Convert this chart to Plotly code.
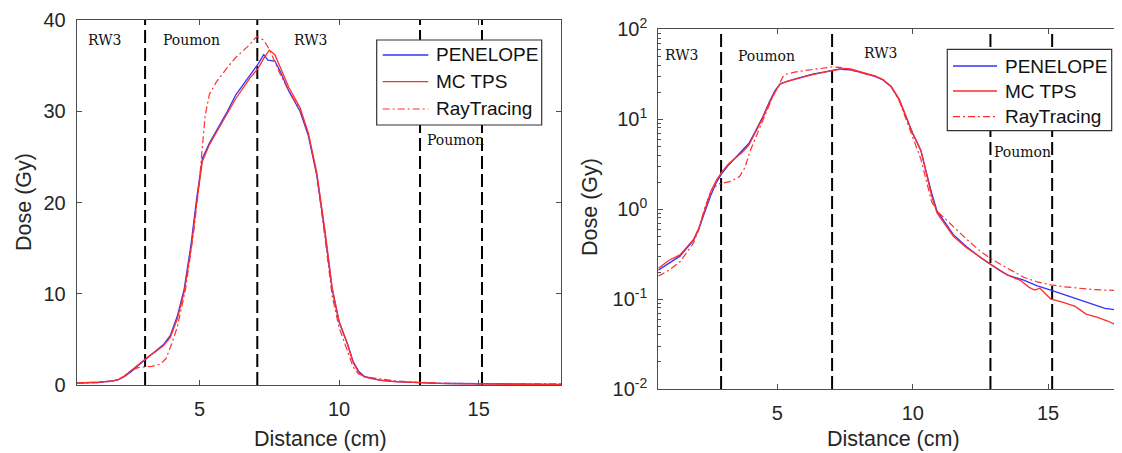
import math
import plotly.graph_objects as go

# ---------------- data ----------------
pen_x = [0.6, 1.0, 1.4, 1.9, 2.1, 2.3, 2.55, 2.75, 2.95, 3.2, 3.4, 3.7, 3.95, 4.2, 4.45, 4.7, 4.9,
         5.1, 5.35, 5.6, 6.0, 6.3, 6.8, 7.1, 7.3, 7.45, 7.7, 7.9, 8.2, 8.6, 8.9, 9.2, 9.5, 9.75,
         10.0, 10.3, 10.5, 10.7, 10.9, 11.2, 11.5, 12.0, 12.5, 12.9, 13.5, 14.1, 14.6, 15.1, 15.6,
         16.1, 16.6, 17.1, 17.6, 18.0]
pen_y = [0.21, 0.25, 0.30, 0.45, 0.6, 0.9, 1.45, 2.0, 2.5, 3.1, 3.6, 4.4, 5.4, 7.5, 10.5, 15.5, 20.5,
         24.8, 26.5, 27.8, 30.0, 31.8, 33.9, 35.2, 36.2, 35.6, 35.5, 34.3, 32.2, 30.0, 27.3, 23.0, 16.5, 10.5,
         6.9, 4.5, 2.6, 1.5, 0.95, 0.7, 0.52, 0.38, 0.29, 0.24, 0.185, 0.162, 0.14, 0.126, 0.112,
         0.098, 0.088, 0.079, 0.075, 0.073]

mc_x = [0.6, 1.0, 1.4, 1.9, 2.1, 2.3, 2.55, 2.75, 2.95, 3.2, 3.4, 3.7, 3.95, 4.2, 4.45, 4.7, 4.9,
        5.1, 5.35, 5.6, 6.0, 6.3, 6.8, 7.1, 7.3, 7.5, 7.7, 7.9, 8.2, 8.6, 8.9, 9.2, 9.5, 9.75,
        10.0, 10.3, 10.5, 10.7, 10.9, 11.2, 11.5, 12.0, 12.5, 12.9, 13.3, 13.6, 14.0, 14.3, 14.5,
        14.7, 15.1, 15.5, 16.0, 16.4, 16.8, 17.2, 17.6, 18.0]
mc_y = [0.22, 0.27, 0.31, 0.46, 0.62, 0.95, 1.6, 2.1, 2.6, 3.2, 3.6, 4.3, 5.2, 7.2, 10.2, 15.0, 20.0,
        24.5, 26.3, 27.6, 29.7, 31.4, 33.6, 34.7, 35.8, 36.7, 36.2, 34.8, 32.6, 30.4, 27.6, 23.3, 16.8, 10.7,
        7.0, 4.5, 2.5, 1.4, 0.9, 0.66, 0.5, 0.37, 0.29, 0.24, 0.2, 0.18, 0.16, 0.135, 0.126,
        0.132, 0.1, 0.093, 0.083, 0.068, 0.063, 0.057, 0.05, 0.045]

ray_x = [0.6, 1.0, 1.4, 1.9, 2.1, 2.3, 2.55, 2.8, 3.0, 3.3, 3.6, 3.8, 4.0, 4.2, 4.5, 4.8, 5.0,
         5.2, 5.35, 5.6, 6.0, 6.3, 6.8, 7.05, 7.3, 7.5, 7.7, 7.9, 8.2, 8.6, 8.9, 9.2, 9.5, 9.75,
         10.0, 10.3, 10.5, 10.7, 10.9, 11.2, 11.5, 12.0, 12.5, 12.9, 13.5, 14.1, 14.6, 15.1, 15.6,
         16.1, 16.6, 17.1, 17.6, 18.0]
ray_y = [0.18, 0.21, 0.26, 0.42, 0.6, 1.0, 1.6, 1.9, 1.95, 2.05, 2.3, 2.9, 4.5, 6.3, 10.5, 17.0, 22.5,
         29.5, 31.8, 33.2, 34.8, 35.9, 37.3, 38.2, 37.8, 36.8, 35.4, 34.0, 32.2, 30.2, 27.5, 23.0, 16.0, 9.8,
         6.3, 3.6, 2.0, 1.2, 0.95, 0.78, 0.64, 0.46, 0.34, 0.28, 0.22, 0.175, 0.155, 0.144, 0.137,
         0.132, 0.128, 0.126, 0.124, 0.123]

series_names = ["PENELOPE", "MC TPS", "RayTracing"]

# tissue boundaries (cm) as drawn in each panel
bounds_lin = [3.05, 7.07, 12.9, 15.12]
bounds_log = [2.92, 7.02, 12.87, 15.15]

# region labels: (text, x cm, dose)
regions_lin = [("RW3", 0.93, 37.8), ("Poumon", 3.63, 37.8), ("RW3", 8.3, 37.8), ("Poumon", 13.07, 26.8)]
regions_log = [("RW3", 0.78, 51.8), ("Poumon", 3.46, 50.5), ("RW3", 8.13, 54.5), ("Poumon", 12.93, 4.35)]

lin_yticks = [0, 10, 20, 30, 40]
x_ticks = [5, 10, 15]
log_yticks = [0.01, 0.1, 1, 10, 100]
log_yticklabels = ["10<sup>-2</sup>", "10<sup>-1</sup>", "10<sup>0</sup>", "10<sup>1</sup>", "10<sup>2</sup>"]

# ---------------- styling ----------------
OFF = 8                      # default page margin of the browser body
W, H = 1122 - OFF, 453 - OFF
BLUE = "rgb(50,50,255)"
RED = "rgb(255,45,45)"
TXT = "#262626"
AX = "#4d4d4d"
SANS = "Liberation Sans, Arial, sans-serif"
SERIF = "DejaVu Serif, serif"
DASHDOT = "7px,3px,2px,3px"
VDASH = "13px,5px"


def px(x):
    return (x - OFF) / W


def py(y):
    return 1 - (y - OFF) / H


styles = [dict(color=BLUE, width=1.3), dict(color=RED, width=1.3), dict(color=RED, width=1.2, dash=DASHDOT)]
data = [(pen_x, pen_y), (mc_x, mc_y), (ray_x, ray_y)]

fig = go.Figure()

for xa, ya, bounds, ylo, yhi in [("x", "y", bounds_lin, 0, 40), ("x2", "y2", bounds_log, 0.01, 100)]:
    vx, vy = [], []
    for b in bounds:
        vx += [b, b, None]
        vy += [ylo, yhi, None]
    fig.add_trace(go.Scatter(x=vx, y=vy, mode="lines", xaxis=xa, yaxis=ya, showlegend=False,
                             line=dict(color="black", width=2, dash=VDASH), hoverinfo="skip"))
    for name, (sx, sy), st in zip(series_names, data, styles):
        fig.add_trace(go.Scatter(x=sx, y=sy, mode="lines", name=name, xaxis=xa, yaxis=ya,
                                 showlegend=False, line=st))

common_axis = dict(showgrid=False, zeroline=False, showline=True, linecolor=AX, linewidth=1,
                   ticks="inside", ticklen=5, tickcolor=AX, tickfont=dict(family=SANS, size=20, color=TXT),
                   automargin=False)

minor_vals = []
for d in [0.01, 0.1, 1, 10]:
    minor_vals += [d * k for k in range(2, 10)]

fig.update_layout(
    width=W, height=H, margin=dict(l=0, r=0, t=0, b=0),
    paper_bgcolor="white", plot_bgcolor="white", showlegend=False,
    xaxis=dict(domain=[px(76.7), px(561)], range=[0.6, 17.95], anchor="y", mirror="ticks",
               tickvals=x_ticks, ticklabelstandoff=6, **common_axis),
    yaxis=dict(domain=[py(385), py(20)], range=[0, 40], anchor="x", mirror="ticks",
               tickvals=lin_yticks, ticklabelstandoff=6, **common_axis),
    xaxis2=dict(domain=[px(658.3), 1.0], range=[0.6, 17.73], anchor="y2", mirror="ticks",
                tickvals=x_ticks, ticklabelstandoff=6, **common_axis),
    yaxis2=dict(domain=[py(389), py(29.3)], type="log", range=[-2, 2], anchor="x2", mirror=False,
                tickvals=log_yticks, ticktext=log_yticklabels, ticklabelstandoff=6,
                minor=dict(tickvals=minor_vals, ticks="inside", ticklen=3, tickcolor=AX, showgrid=False),
                **common_axis),
)

ann = []
shapes = []
# region labels
for regs, xr, yr in [(regions_lin, "x", "y"), (regions_log, "x2", "y2")]:
    for t, x, y in regs:
        yy = y if yr == "y" else math.log10(y)
        ann.append(dict(text=t, x=x, y=yy, xref=xr, yref=yr, xanchor="left", yanchor="middle",
                        showarrow=False, font=dict(family=SERIF, size=14, color="#111")))

# axis titles
title_font = dict(family=SANS, size=21.5, color=TXT)
ann += [
    dict(text="Dose (Gy)", x=px(24), y=py(202), textangle=-90, font=title_font),
    dict(text="Distance (cm)", x=px(320), y=py(438.5), font=title_font),
    dict(text="Dose (Gy)", x=px(590), y=py(207), textangle=-90, font=title_font),
    dict(text="Distance (cm)", x=px(893), y=py(439), font=title_font),
]
for a in ann[-4:]:
    a.update(xref="paper", yref="paper", xanchor="center", yanchor="middle", showarrow=False)

# legends (box, samples, texts) drawn per panel
legend_boxes = [
    dict(x0=376.7, x1=541.7, y0=40, y1=125, lx0=382.7, lx1=428.3, tx=434, rows=[55, 81.7, 109]),
    dict(x0=947.3, x1=1111.7, y0=49.3, y1=130.7, lx0=953, lx1=997, tx=1003, rows=[66, 91, 116.7]),
]
for lb in legend_boxes:
    shapes.append(dict(type="rect", xref="paper", yref="paper", x0=px(lb["x0"]), x1=px(lb["x1"]),
                       y0=py(lb["y1"]), y1=py(lb["y0"]), fillcolor="white",
                       line=dict(color="#333", width=1.2), layer="above"))
    for name, st, ry in zip(series_names, styles, lb["rows"]):
        shapes.append(dict(type="line", xref="paper", yref="paper", x0=px(lb["lx0"]), x1=px(lb["lx1"]),
                           y0=py(ry), y1=py(ry), layer="above",
                           line=dict(color=st["color"], width=st["width"], dash=st.get("dash", "solid"))))
        ann.append(dict(text=name, x=px(lb["tx"]), y=py(ry), xref="paper", yref="paper", xanchor="left",
                        yanchor="middle", showarrow=False, font=dict(family=SANS, size=19, color="#111")))

fig.update_layout(annotations=ann, shapes=shapes)
fig.write_html("out.html")
